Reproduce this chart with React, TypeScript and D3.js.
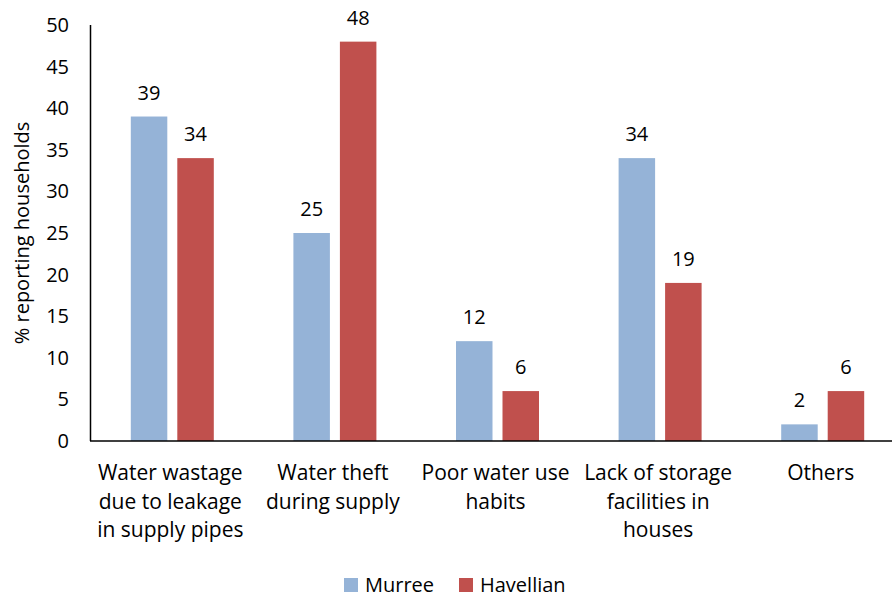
import React from "react";
import * as d3 from "d3";

const categories: string[][] = [
  ["Water wastage", "due to leakage", "in supply pipes"],
  ["Water theft", "during supply"],
  ["Poor water use", "habits"],
  ["Lack of storage", "facilities in", "houses"],
  ["Others"],
];
const seriesNames = ["Murree", "Havellian"];
const murree = [39, 25, 12, 34, 2];
const havellian = [34, 48, 6, 19, 6];
const yTicks = [0, 5, 10, 15, 20, 25, 30, 35, 40, 45, 50];
const colors = ["#95B3D7", "#C0504D"];

const W = 892;
const H = 597;
const FONT = "'Open Sans', Lato, sans-serif";

export default function App() {
  const x = d3
    .scaleBand<number>()
    .domain(categories.map((_, i) => i))
    .range([91, 904])
    .paddingInner(0)
    .paddingOuter(0);
  const y = d3.scaleLinear().domain([0, 50]).range([441, 25]);
  const barW = 36.5;
  const gap = 10;
  const series = [murree, havellian];

  return (
    <svg
      width={W}
      height={H}
      style={{ position: "absolute", left: 0, top: 0, background: "#fff" }}
      fontFamily={FONT}
    >
      <rect width={W} height={H} fill="#fff" />
      {series.map((vals, s) =>
        vals.map((v, i) => {
          const c = (x(i) as number) + x.bandwidth() / 2;
          const bx = s === 0 ? c - gap / 2 - barW : c + gap / 2;
          return (
            <g key={`${s}-${i}`}>
              <rect x={bx} y={y(v)} width={barW} height={y(0) - y(v)} fill={colors[s]} />
              <text
                x={bx + barW / 2}
                y={y(v) - 17}
                textAnchor="middle"
                fontSize={20}
                fill="#000"
              >
                {v}
              </text>
            </g>
          );
        })
      )}
      <line x1={90.5} x2={90.5} y1={25} y2={441} stroke="#000" strokeWidth={1.5} />
      <line x1={90} x2={W} y1={441} y2={441} stroke="#000" strokeWidth={1.5} />
      {yTicks.map((t) => (
        <text key={t} x={69} y={y(t) + 7} textAnchor="end" fontSize={20} fill="#000">
          {t}
        </text>
      ))}
      <text
        transform={`translate(29,${(y(0) + y(50)) / 2}) rotate(-90)`}
        textAnchor="middle"
        fontSize={20}
        fill="#000"
      >
        % reporting households
      </text>
      {categories.map((lines, i) => {
        const cx = (x(i) as number) + x.bandwidth() / 2 - 2;
        return (
          <text key={i} x={cx} textAnchor="middle" fontSize={21} fill="#000">
            {lines.map((l, j) => (
              <tspan key={j} x={cx} y={480 + j * 28.7}>
                {l}
              </tspan>
            ))}
          </text>
        );
      })}
      {seriesNames.map((n, s) => {
        const lx = s === 0 ? 344 : 459;
        return (
          <g key={n}>
            <rect x={lx} y={578} width={14} height={14} fill={colors[s]} />
            <text x={lx + 21} y={592} fontSize={20} fill="#000">
              {n}
            </text>
          </g>
        );
      })}
    </svg>
  );
}
